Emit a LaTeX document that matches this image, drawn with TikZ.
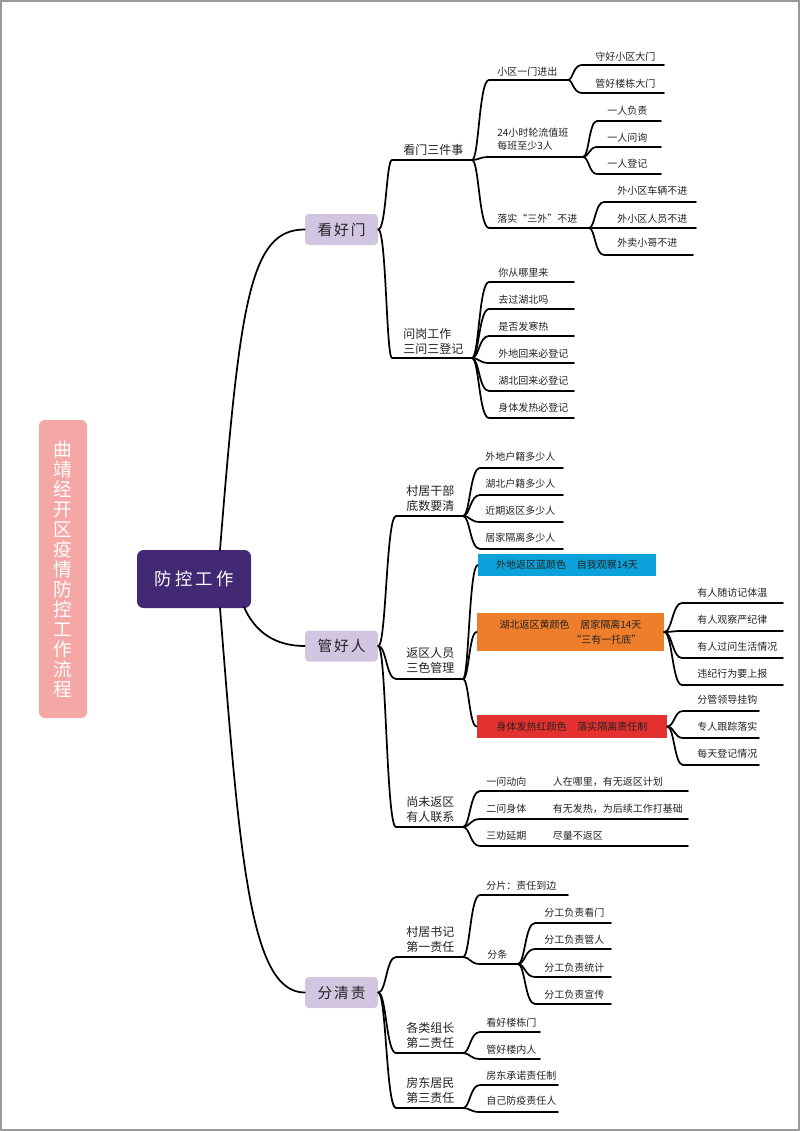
\documentclass[tikz,border=0pt]{standalone}
\usepackage{fontspec}
\setmainfont{Noto Sans CJK SC}
\usetikzlibrary{calc}
\definecolor{txt}{HTML}{222222}
\definecolor{framegray}{HTML}{9A9A9A}
\definecolor{titlepink}{HTML}{F4A7A4}
\definecolor{rootpurple}{HTML}{432873}
\definecolor{lav}{HTML}{D1C5E0}
\definecolor{bluebox}{HTML}{0BA1DA}
\definecolor{orangebox}{HTML}{EF7E2C}
\definecolor{redbox}{HTML}{E4312F}
\newcommand\lf[8][leaf]{\coordinate (#2s) at (#3,#5); \coordinate (#2e) at (#4,#5); \node[#1] (#2t) at (#6,#7) {#8};}
\newcommand\brc[3]{\draw[br] (#1) .. controls ($(#1)+(#3,0)$) and ($(#1 |- #2s)+(#3,0)$) .. (#2s) -- (#2e);}
\newcommand\bxc[3]{\draw[br] (#1) .. controls ($(#1)+(#3,0)$) and ($(#1 |- #2)+(#3,0)$) .. (#2);}
\begin{document}
\begin{tikzpicture}[x=0.75pt,y=-0.75pt,
  br/.style={line width=1.3pt, line cap=round, line join=round, draw=black},
  leaf/.style={anchor=west, inner sep=0pt, text=txt, align=left, font=\fontsize{7.5}{9.75}\selectfont},
  mid/.style={anchor=west, inner sep=0pt, text=txt, align=left, font=\fontsize{9}{11.25}\selectfont},
  topic/.style={fill=lav, rounded corners=3pt, minimum width=54.75pt, minimum height=23.25pt, inner sep=0pt, text=txt, font=\fontsize{11}{13}\selectfont},
  cbox/.style={inner sep=0pt, text=txt, font=\fontsize{7.5}{11.25}\selectfont}]
\useasboundingbox (0,0) rectangle (800,1131);
\draw[draw=framegray, line width=1.2pt] (0.8,0.8) rectangle (799.2,1130.2);

% title
\node[fill=titlepink, rounded corners=4.5pt, minimum width=36pt, minimum height=223.5pt, inner sep=0pt, text=white, align=center, font=\fontsize{14}{15}\selectfont] (title) at (63,569) {曲\\靖\\经\\开\\区\\疫\\情\\防\\控\\工\\作\\流\\程};

% root
\node[fill=rootpurple, rounded corners=5pt, minimum width=85.5pt, minimum height=43.5pt, inner sep=0pt, text=white, font=\fontsize{13}{15}\selectfont] (root) at (194,579) {防\hspace{2.4pt}控\hspace{2.4pt}工\hspace{2.4pt}作};

% level 1
\node[topic] (kh) at (341.5,229.5) {看\hspace{1.5pt}好\hspace{1.5pt}门};
\node[topic] (gh) at (341.5,646) {管\hspace{1.5pt}好\hspace{1.5pt}人};
\node[topic] (fq) at (341.5,992.5) {分\hspace{1.5pt}清\hspace{1.5pt}责};

\coordinate (rt) at (220,550);
\coordinate (rb) at (220,608);
\coordinate (rr) at (244,607);
\draw[br] (rt) .. controls (240,300) and (250,229.5) .. (kh.west);
\draw[br] (rr) .. controls (255,632) and (275,646) .. (gh.west);
\draw[br] (rb) .. controls (240,860) and (250,992.5) .. (fq.west);

% ===== 看好门 =====
\lf[mid]{a1}{392}{472}{160}{403}{150}{看门三件事}
\lf[mid]{a2}{392}{472}{358}{403}{341}{问岗工作\\三问三登记}
\brc{kh.east}{a1}{8}
\brc{kh.east}{a2}{8}

\lf{b1}{489}{568}{80}{497}{72}{小区一门进出}
\lf{b2}{489}{583}{157}{497}{139.5}{24小时轮流值班\\每班至少3人}
\lf{b3}{489}{589}{228}{497}{219}{落实“三外”不进}
\brc{a1e}{b1}{7}
\brc{a1e}{b2}{7}
\brc{a1e}{b3}{7}

\lf{c1}{582}{664}{65}{595}{57}{守好小区大门}
\lf{c2}{582}{664}{93}{595}{84}{管好楼栋大门}
\brc{b1e}{c1}{5}
\brc{b1e}{c2}{5}
\lf{c3}{597}{661}{121}{607}{111}{一人负责}
\lf{c4}{597}{661}{147}{607}{138}{一人问询}
\lf{c5}{597}{661}{174}{607}{164}{一人登记}
\brc{b2e}{c3}{6}
\brc{b2e}{c4}{6}
\brc{b2e}{c5}{6}
\lf{c6}{604}{696}{202}{617}{191}{外小区车辆不进}
\lf{c7}{604}{696}{228}{617}{219}{外小区人员不进}
\lf{c8}{604}{693}{255}{617}{243}{外卖小哥不进}
\brc{b3e}{c6}{6}
\brc{b3e}{c7}{6}
\brc{b3e}{c8}{6}

\lf{d1}{489}{574}{282}{498}{273}{你从哪里来}
\lf{d2}{489}{574}{309}{498}{300}{去过湖北吗}
\lf{d3}{489}{574}{336}{498}{327}{是否发寒热}
\lf{d4}{489}{574}{363}{498}{354}{外地回来必登记}
\lf{d5}{489}{574}{391}{498}{381}{湖北回来必登记}
\lf{d6}{489}{574}{418}{498}{408}{身体发热必登记}
\brc{a2e}{d1}{7}
\brc{a2e}{d2}{7}
\brc{a2e}{d3}{7}
\brc{a2e}{d4}{7}
\brc{a2e}{d5}{7}
\brc{a2e}{d6}{7}

% ===== 管好人 =====
\lf[mid]{g1}{396}{463}{516}{406}{498.5}{村居干部\\底数要清}
\lf[mid]{g2}{396}{463}{679}{406}{660}{返区人员\\三色管理}
\lf[mid]{g3}{396}{463}{827}{406}{809}{尚未返区\\有人联系}
\brc{gh.east}{g1}{8}
\brc{gh.east}{g2}{8}
\brc{gh.east}{g3}{8}

\lf{h1}{480}{563}{468}{485}{457}{外地户籍多少人}
\lf{h2}{480}{563}{495}{485}{484}{湖北户籍多少人}
\lf{h3}{480}{563}{522}{485}{511}{近期返区多少人}
\lf{h4}{480}{563}{549}{485}{538}{居家隔离多少人}
\brc{g1e}{h1}{7}
\brc{g1e}{h2}{7}
\brc{g1e}{h3}{7}
\brc{g1e}{h4}{7}

\node[cbox, fill=bluebox, minimum width=133.5pt, minimum height=16.5pt] (blue) at (567,565) {外地返区蓝颜色\hspace{8pt}自我观察14天};
\node[cbox, fill=orangebox, minimum width=140.25pt, minimum height=28.5pt, align=right] (orange) at (570.5,632) {湖北返区黄颜色\hspace{8pt}居家隔离14天\\“三有一托底”};
\node[cbox, fill=redbox, minimum width=142.5pt, minimum height=17.25pt] (red) at (572,726.5) {身体发热红颜色\hspace{8pt}落实隔离责任制};
\bxc{g2e}{blue.west}{6}
\bxc{g2e}{orange.west}{6}
\bxc{g2e}{red.west}{6}

\lf{o1}{682}{783}{603}{697}{593}{有人随访记体温}
\lf{o2}{682}{783}{631}{697}{620}{有人观察严纪律}
\lf{o3}{682}{783}{658}{697}{647}{有人过问生活情况}
\lf{o4}{682}{783}{685}{697}{674}{违纪行为要上报}
\brc{orange.east}{o1}{8}
\brc{orange.east}{o2}{8}
\brc{orange.east}{o3}{8}
\brc{orange.east}{o4}{8}

\lf{r1}{683}{759}{711}{697}{700}{分管领导挂钩}
\lf{r2}{683}{759}{738}{697}{727}{专人跟踪落实}
\lf{r3}{683}{759}{765}{697}{754}{每天登记情况}
\brc{red.east}{r1}{7}
\brc{red.east}{r2}{7}
\brc{red.east}{r3}{7}

\lf{k1}{480}{688}{791}{486}{782}{一问动向\hspace{20pt}人在哪里，有无返区计划}
\lf{k2}{480}{688}{819}{486}{809}{二问身体\hspace{20pt}有无发热，为后续工作打基础}
\lf{k3}{480}{688}{846}{486}{836}{三劝延期\hspace{20pt}尽量不返区}
\brc{g3e}{k1}{7}
\brc{g3e}{k2}{7}
\brc{g3e}{k3}{7}

% ===== 分清责 =====
\lf[mid]{f1}{396}{463}{957}{406}{939.5}{村居书记\\第一责任}
\lf[mid]{f2}{396}{463}{1053}{406}{1035.5}{各类组长\\第二责任}
\lf[mid]{f3}{396}{463}{1108}{406}{1090}{房东居民\\第三责任}
\brc{fq.east}{f1}{8}
\brc{fq.east}{f2}{8}
\brc{fq.east}{f3}{8}

\lf{m1}{480}{568}{895}{486}{886}{分片：责任到边}
\lf{m2}{480}{518}{964}{487}{955}{分条}
\brc{f1e}{m1}{7}
\brc{f1e}{m2}{7}

\lf{n1}{535}{611}{923}{544}{913}{分工负责看门}
\lf{n2}{535}{611}{949}{544}{940}{分工负责管人}
\lf{n3}{535}{611}{977}{544}{968}{分工负责统计}
\lf{n4}{535}{611}{1004}{544}{995}{分工负责宣传}
\brc{m2e}{n1}{7}
\brc{m2e}{n2}{7}
\brc{m2e}{n3}{7}
\brc{m2e}{n4}{7}

\lf{p1}{480}{540}{1032}{486}{1023}{看好楼栋门}
\lf{p2}{480}{540}{1059}{486}{1050}{管好楼内人}
\brc{f2e}{p1}{7}
\brc{f2e}{p2}{7}

\lf{q1}{480}{558}{1085}{486}{1076}{房东承诺责任制}
\lf{q2}{480}{558}{1112}{486}{1101}{自己防疫责任人}
\brc{f3e}{q1}{7}
\brc{f3e}{q2}{7}
\end{tikzpicture}
\end{document}
